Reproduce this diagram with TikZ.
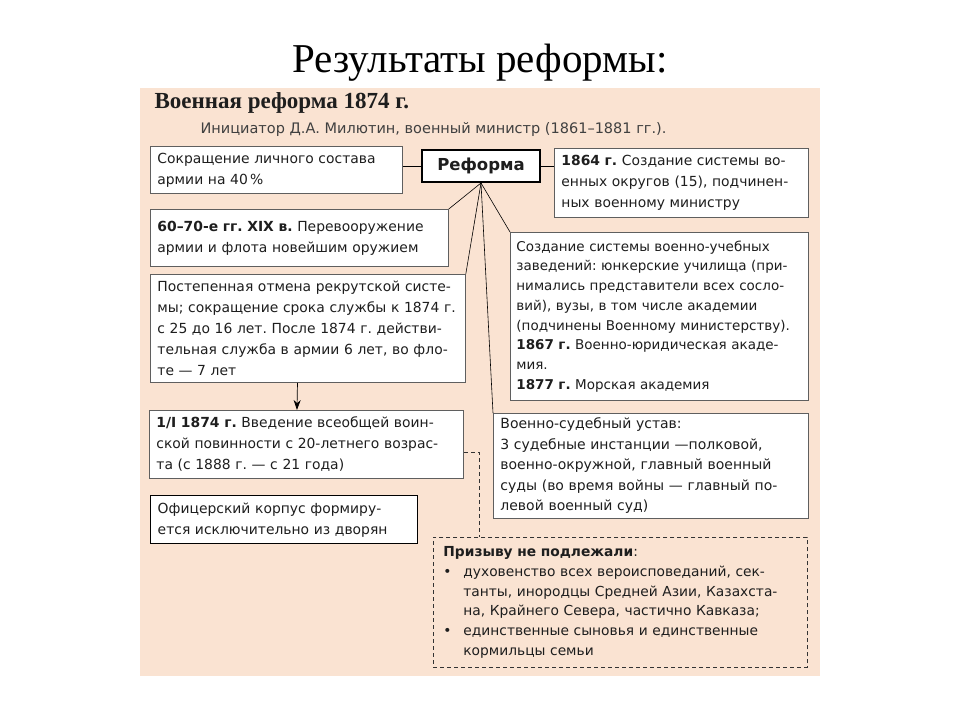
\documentclass[tikz,border=0pt]{standalone}
\usepackage{fontspec}
\setmainfont{Liberation Serif}
\newfontfamily\bx{DejaVu Sans}
\usetikzlibrary{arrows.meta,calc}
\definecolor{panel}{RGB}{250,227,210}
\definecolor{ink}{RGB}{30,30,30}
\definecolor{bord}{RGB}{95,95,95}
\frenchspacing
\begin{document}
\begin{tikzpicture}[x=1pt,y=-1pt,
  box/.style={draw=bord,line width=0.8pt,fill=white,anchor=north west,inner xsep=7pt,inner ysep=0pt,align=left,text=ink,font=\bx\fontsize{13.9}{21}\selectfont},
  conn/.style={draw=black,line width=0.6pt},
  arr/.style={draw=black,line width=0.7pt,-{Stealth[length=10pt,width=7pt]}},
  dashline/.style={draw=black!80,line width=0.8pt,dash pattern=on 4pt off 3pt}]
\fill[white] (0,0) rectangle (960,720);
\useasboundingbox (0,0) rectangle (960,720);
\fill[panel] (140,88) rectangle (820,676);

\node[font=\fontsize{41}{45}\selectfont,text=black] (title) at (480,63) {Результаты реформы:};
\node[anchor=west,font=\bfseries\fontsize{23}{26}\selectfont,text=ink] (hdr) at (151,103) {Военная реформа 1874 г.};
\node[anchor=west,font=\bx\fontsize{14.5}{16}\selectfont,text=black!75] (init) at (197,129) {Инициатор Д.А. Милютин, военный министр (1861–1881 гг.).};

\node[box,minimum width=252pt,text width=238pt,minimum height=47pt] (b1) at (150,146)
  {Сокращение личного состава\\армии на 40\,\%};
\node[draw=black,line width=2pt,fill=white,anchor=north west,minimum width=118pt,minimum height=32pt,inner sep=0pt,text=ink,font=\bx\bfseries\fontsize{16.5}{19}\selectfont] (ref) at (421,149) {Реформа};
\node[box,minimum width=254pt,text width=240pt,minimum height=69pt] (b64) at (554,148)
  {\textbf{1864 г.} Создание системы во-\\енных округов (15), подчинен-\\ных военному министру};
\node[box,minimum width=298pt,text width=284pt,minimum height=57pt] (b2) at (150,209)
  {\textbf{60–70-е гг. XIX в.} Перевооружение\\армии и флота новейшим оружием};
\node[box,minimum width=315pt,text width=301pt,minimum height=108pt] (b3) at (150,274)
  {Постепенная отмена рекрутской систе-\\мы; сокращение срока службы к 1874 г.\\с 25 до 16 лет. После 1874 г. действи-\\тельная служба в армии 6 лет, во фло-\\те — 7 лет};
\node[box,minimum width=298pt,text width=286pt,inner xsep=6pt,minimum height=168pt,font=\bx\fontsize{13.5}{19.7}\selectfont] (bvu) at (510,232)
  {Создание системы военно-учебных\\заведений: юнкерские училища (при-\\нимались представители всех сосло-\\вий), вузы, в том числе академии\\(подчинены Военному министерству).\\\textbf{1867 г.} Военно-юридическая акаде-\\мия.\\\textbf{1877 г.} Морская академия};
\node[box,minimum width=314pt,text width=300pt,minimum height=68pt] (b4) at (149,410)
  {\textbf{1/I 1874 г.} Введение всеобщей воин-\\ской повинности с 20-летнего возрас-\\та (с 1888 г. — с 21 года)};
\node[box,minimum width=315pt,text width=301pt,minimum height=105pt,font=\bx\fontsize{14}{20.5}\selectfont] (bvs) at (493,413)
  {Военно-судебный устав:\\3 судебные инстанции —полковой,\\военно-окружной, главный военный\\суды (во время войны — главный по-\\левой военный суд)};
\node[box,draw=black,line width=1.4pt,minimum width=267pt,text width=253pt,minimum height=48pt] (b5) at (150,495)
  {Офицерский корпус формиру-\\ется исключительно из дворян};
\node[box,dashline,fill=panel,inner xsep=10pt,minimum width=374pt,text width=354pt,minimum height=130pt,font=\bx\fontsize{13.8}{19.8}\selectfont] (bd) at (433,537)
  {\textbf{Призыву не подлежали}:\\
   \makebox[20pt][l]{•}духовенство всех вероисповеданий, сек-\\
   \hspace*{20pt}танты, инородцы Средней Азии, Казахста-\\
   \hspace*{20pt}на, Крайнего Севера, частично Кавказа;\\
   \makebox[20pt][l]{•}единственные сыновья и единственные\\
   \hspace*{20pt}кормильцы семьи};

\draw[conn] (ref.west) -- (ref.west -| b1.east);
\draw[conn] (ref.east) -- (ref.east -| b64.west);
\draw[conn] (ref.south) -- (b2.north east);
\draw[conn] (ref.south) -- (b3.north east);
\draw[conn] (ref.south) -- (bvu.north west);
\draw[conn] (ref.south) -- (bvs.north west);
\draw[arr] ($(b3.south west)!0.467!(b3.south east)$) -- ($(b4.north west)!0.47!(b4.north east)$);
\draw[dashline] ($(b4.north east)!0.62!(b4.south east)$) -| ($(bd.north west)!0.123!(bd.north east)$);
\end{tikzpicture}
\end{document}
